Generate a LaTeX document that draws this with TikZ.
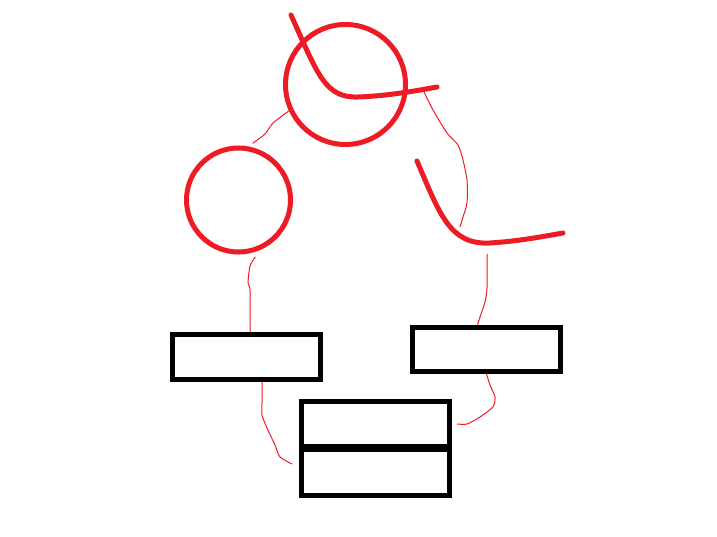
\documentclass[tikz,border=0pt]{standalone}
\usetikzlibrary{positioning}
\definecolor{paintred}{RGB}{237,28,36}
\tikzset{
  ring/.style={circle,draw=paintred,line width=5pt,inner sep=0pt},
  stroke/.style={draw=paintred,line width=5pt,line cap=round,line join=round},
  box/.style={rectangle,draw=black,line width=5pt,inner sep=0pt,minimum width=148pt},
  wire/.style={draw=paintred,line width=1pt}
}
\begin{document}
\begin{tikzpicture}[x=1pt,y=-1pt]
\useasboundingbox (0,0) rectangle (717,537);

% circles
\node[ring,minimum size=120pt] (top) at (345.5,84.5) {};
\node[ring,minimum size=104pt] (left) at (238.5,200) {};

% hooks
\draw[stroke] (291,15) .. controls (318,75) and (325,98) .. (358,97)
  .. controls (385,96) and (410,92) .. (437,87);
\draw[stroke] (417,161) .. controls (440,215) and (450,245) .. (490,243)
  .. controls (520,241) and (540,237) .. (563,233);
\coordinate (hookA) at (424,92);
\coordinate (hookB) at (460,227);
\coordinate (hookC) at (487,254);

% boxes
\node[box,minimum height=45pt] (boxL) at (246.5,357) {};
\node[box,minimum height=44pt] (boxR) at (486.5,349.5) {};
\node[box,minimum height=45pt] (midA) at (375.5,424) {};
\node[box,minimum height=46pt,below=-2pt of midA] (midB) {};

% wires
\draw[wire] plot[smooth,tension=0.4] coordinates {([yshift=4pt]left.75) (265,134) (273,123) (top.205)};
\draw[wire] plot[smooth,tension=0.4] coordinates {(hookA) (433,110) (447,133) (458,145) (463,160) (467,180) (467,203) (463,217) (hookB)};
\draw[wire] plot[smooth,tension=0.4] coordinates {(hookC) (487,288) (485,302) (480,317) ([xshift=-9pt]boxR.north)};
\draw[wire] plot[smooth,tension=0.4] coordinates {([yshift=-5pt]left.-72) (250,266) (248,283) (250,290) ([xshift=3.5pt]boxL.north)};
\draw[wire] plot[smooth,tension=0.4] coordinates {([xshift=15.5pt]boxL.south) (262,403) (262,415) (267,428) (275,445) (280,457) ([xshift=-7pt,yshift=8.5pt]midB.west)};
\draw[wire] plot[smooth,tension=0.4] coordinates {(boxR.south) (490,385) (495,397) (493,407) (480,417) (467,424) ([xshift=5pt]midA.east)};

\end{tikzpicture}
\end{document}
